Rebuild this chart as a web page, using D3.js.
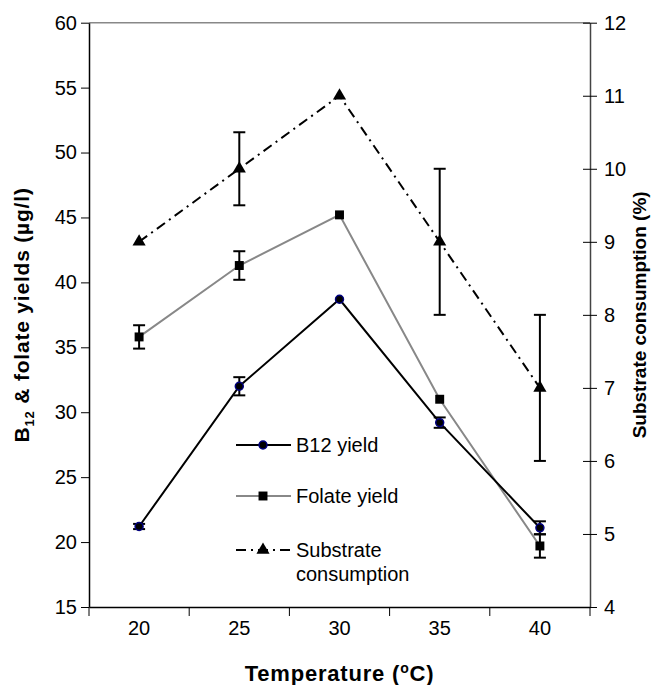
<!DOCTYPE html>
<html>
<head>
<meta charset="utf-8">
<script src="https://cdn.jsdelivr.net/npm/d3@7"></script>
<style>
  body { margin: 0; background: #fff; }
  text { font-family: "Liberation Sans", Arial, sans-serif; }
</style>
</head>
<body>
<div class="chart"></div>
<script>
var temps = [20, 25, 30, 35, 40];
var b12 = [21.2, 32.0, 38.7, 29.2, 21.1];
var b12Err = [0.2, 0.7, 0, 0.4, 0.5];
var folate = [35.8, 41.3, 45.2, 31.0, 19.7];
var folateErr = [0.9, 1.1, 0, 0, 0.9];
var substrate = [9, 10, 11, 9, 7];
var substrateErr = [0, 0.5, 0, 1.0, 1.0];
var leftTicks = [15, 20, 25, 30, 35, 40, 45, 50, 55, 60];
var rightTicks = [4, 5, 6, 7, 8, 9, 10, 11, 12];

var w = 653, h = 685;
var margin = {top: 22.7, right: 63, bottom: 78, left: 89};

var svg = d3.select("div.chart").append("svg")
    .attr("width", w).attr("height", h);

//scales
var x = d3.scaleBand().domain(temps).range([margin.left, w - margin.right]).padding(0);
var yL = d3.scaleLinear().domain([15, 60]).range([h - margin.bottom, margin.top]);
var yR = d3.scaleLinear().domain([4, 12]).range([h - margin.bottom, margin.top]);
var cx = function(d){ return x(d) + x.bandwidth() / 2; };

//plot border (top)
svg.append("line")
    .attr("x1", margin.left).attr("x2", w - margin.right)
    .attr("y1", margin.top).attr("y2", margin.top)
    .attr("stroke", "#888").attr("stroke-width", 1.5);

//left axis
var gL = svg.append("g")
    .attr("transform", `translate(${margin.left},0)`)
    .call(d3.axisLeft(yL).tickValues(leftTicks).tickSize(8).tickSizeOuter(0).tickPadding(4));
//right axis, ticks cross the line
var gR = svg.append("g")
    .attr("transform", `translate(${w - margin.right},0)`)
    .call(d3.axisRight(yR).tickValues(rightTicks).tickSize(7).tickSizeOuter(0).tickPadding(7));
gR.selectAll(".tick line").attr("x1", -7);
gR.select(".domain").attr("stroke", "#444");

//bottom axis: labels at band centers, ticks at band edges
var gB = svg.append("g")
    .attr("transform", `translate(0,${h - margin.bottom})`)
    .call(d3.axisBottom(x).tickSize(0).tickSizeOuter(0).tickPadding(14));
gB.selectAll(".tick").append("line")
    .attr("x1", x.bandwidth() / 2).attr("x2", x.bandwidth() / 2)
    .attr("y1", 0).attr("y2", 9)
    .attr("stroke", "#000");
gB.append("line")
    .attr("x1", margin.left).attr("x2", margin.left)
    .attr("y1", 0).attr("y2", 9).attr("stroke", "#000");

svg.selectAll(".domain").attr("stroke-width", 1.5);
svg.selectAll(".tick text").attr("font-size", 20).attr("fill", "#000")
    .style("font-family", "Liberation Sans, Arial, sans-serif");

//axis titles
svg.append("text")
    .attr("x", (margin.left + w - margin.right) / 2).attr("y", 681)
    .attr("text-anchor", "middle").attr("font-size", 22).attr("font-weight", "bold")
    .attr("letter-spacing", 0.8)
    .html('Temperature (<tspan font-size="14" dy="-8">o</tspan><tspan dy="8">C)</tspan>');

svg.append("text")
    .attr("transform", `translate(29,${(margin.top + h - margin.bottom) / 2}) rotate(-90)`)
    .attr("text-anchor", "middle").attr("font-size", 21).attr("font-weight", "bold")
    .attr("letter-spacing", 0.8)
    .html('B<tspan font-size="13" dy="5">12</tspan><tspan dy="-5"> &amp; folate yields (µg/l)</tspan>');

svg.append("text")
    .attr("transform", `translate(646,${(margin.top + h - margin.bottom) / 2}) rotate(-90)`)
    .attr("text-anchor", "middle").attr("font-size", 19).attr("font-weight", "bold")
    .text("Substrate consumption (%)");

//series
var series = [
  {name: "Substrate", vals: substrate, err: substrateErr, y: yR, color: "#000", dash: "10,5,2,5", sym: d3.symbolTriangle, size: 75, stroke: "none"},
  {name: "Folate", vals: folate, err: folateErr, y: yL, color: "#888", dash: null, sym: d3.symbolSquare, size: 80, stroke: "none"},
  {name: "B12", vals: b12, err: b12Err, y: yL, color: "#000", dash: null, sym: d3.symbolCircle, size: 50, stroke: "#000080"}
];

series.forEach(function(s){
  var pts = s.vals.map(function(v, i){ return {t: temps[i], v: v, e: s.err[i]}; });
  var line = d3.line().x(function(d){ return cx(d.t); }).y(function(d){ return s.y(d.v); });
  svg.append("path").datum(pts)
      .attr("d", line).attr("fill", "none")
      .attr("stroke", s.color).attr("stroke-width", 2)
      .attr("stroke-dasharray", s.dash);

  //error bars
  var eb = svg.append("g").selectAll("g").data(pts.filter(function(d){ return d.e > 0; })).join("g");
  eb.append("line")
      .attr("x1", function(d){ return cx(d.t); })
      .attr("x2", function(d){ return cx(d.t); })
      .attr("y1", function(d){ return s.y(d.v + d.e); })
      .attr("y2", function(d){ return s.y(d.v - d.e); })
      .attr("stroke", "#000").attr("stroke-width", 2);
  [1, -1].forEach(function(sign){
    eb.append("line")
        .attr("x1", function(d){ return cx(d.t) - 6; })
        .attr("x2", function(d){ return cx(d.t) + 6; })
        .attr("y1", function(d){ return s.y(d.v + sign * d.e); })
        .attr("y2", function(d){ return s.y(d.v + sign * d.e); })
        .attr("stroke", "#000").attr("stroke-width", 2);
  });

  svg.append("g").selectAll("path").data(pts).join("path")
      .attr("d", d3.symbol().type(s.sym).size(s.size))
      .attr("transform", function(d){ return `translate(${cx(d.t)},${s.y(d.v)})`; })
      .attr("fill", "#000")
      .attr("stroke", s.stroke).attr("stroke-width", 1.5);
});

//legend
var legend = [
  {label: ["B12 yield"], color: "#000", dash: null, sym: d3.symbolCircle, size: 50, stroke: "#000080", y: 445},
  {label: ["Folate yield"], color: "#888", dash: null, sym: d3.symbolSquare, size: 80, stroke: "none", y: 496},
  {label: ["Substrate", "consumption"], color: "#000", dash: "10,5,2,5", sym: d3.symbolTriangle, size: 75, stroke: "none", y: 550}
];
var lg = svg.append("g").selectAll("g").data(legend).join("g")
    .attr("transform", function(d){ return `translate(236,${d.y})`; });
lg.append("line")
    .attr("x1", 0).attr("x2", 55)
    .attr("stroke", function(d){ return d.color; }).attr("stroke-width", 2)
    .attr("stroke-dasharray", function(d){ return d.dash; });
lg.append("path")
    .attr("d", function(d){ return d3.symbol().type(d.sym).size(d.size)(); })
    .attr("transform", "translate(27,0)")
    .attr("fill", "#000")
    .attr("stroke", function(d){ return d.stroke; }).attr("stroke-width", 1.5);
lg.append("text")
    .attr("x", 60).attr("y", 7).attr("font-size", 20)
    .selectAll("tspan").data(function(d){ return d.label; }).join("tspan")
    .attr("x", 60).attr("dy", function(d, i){ return i ? 24 : 0; })
    .text(function(d){ return d; });
</script>
</body>
</html>
